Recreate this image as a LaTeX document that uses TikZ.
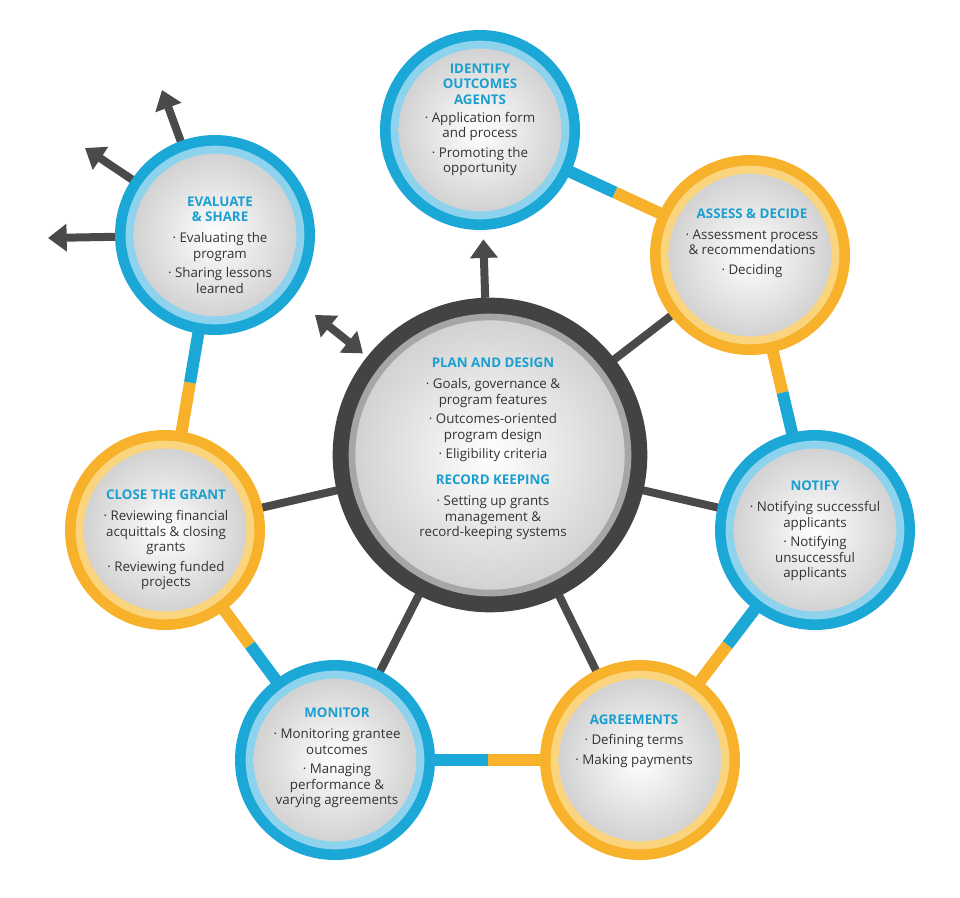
\documentclass[tikz,border=0pt]{standalone}
\usepackage{fontspec}
\setmainfont{Open Sans}
\usetikzlibrary{arrows.meta,calc}
\definecolor{cblue}{HTML}{1BA8D6}
\definecolor{lblue}{HTML}{8DD3EE}
\definecolor{corange}{HTML}{F7B12B}
\definecolor{lorange}{HTML}{FBD57E}
\definecolor{ctitle}{HTML}{1B9FD0}
\definecolor{ctext}{HTML}{333333}
\definecolor{cgrey}{HTML}{4A4A4A}
\tikzset{
  band/.style={line width=9pt},
  spoke/.style={line width=6pt,cgrey},
  garrow/.style={line width=6pt,cgrey,-{Triangle[length=14pt,width=20pt]}},
  garrows/.style={line width=6pt,cgrey,{Triangle[length=14pt,width=20pt]}-{Triangle[length=14pt,width=20pt]}},
  txt/.style={align=center,text=ctext,font=\fontsize{10}{11.6}\selectfont,inner sep=0pt},
}
\newcommand{\ttl}[1]{{\color{ctitle}\bfseries #1}}
\newcommand{\sat}[3]{% center, outer colour, inner colour
  \fill[#2] (#1) circle (75pt);
  \fill[#3] (#1) circle (67pt);
  \shade[inner color=white,outer color=gray!35] (#1) circle (61pt);
}
\begin{document}
\begin{tikzpicture}[x=0.75pt,y=-0.75pt]
\useasboundingbox (0,0) rectangle (960,897);
\coordinate (id) at (480,130);
\coordinate (as) at (750,255);
\coordinate (no) at (815,530);
\coordinate (ag) at (640,760);
\coordinate (mo) at (335,760);
\coordinate (cl) at (165,530);
\coordinate (ev) at (215,235);
\coordinate (pl) at (490,455);
% ring bands
\foreach \a/\ca/\b/\cb in {id/cblue/as/corange, as/corange/no/cblue, no/cblue/ag/corange, ag/corange/mo/cblue, mo/cblue/cl/corange, cl/corange/ev/cblue}{
  \draw[band,\ca] (\a) -- ($(\a)!0.5!(\b)$);
  \draw[band,\cb] ($(\a)!0.5!(\b)$) -- (\b);
}
% spokes
\foreach \s in {as,no,ag,mo,cl} \draw[spoke] (pl) -- (\s);
\coordinate (e1) at (48,238);
\coordinate (e2) at (85,148);
\coordinate (e3) at (162,90);
\draw[garrow] ($(ev)!74pt!(e1)$) -- (e1);
\draw[garrow] ($(ev)!74pt!(e2)$) -- (e2);
\draw[garrow] ($(ev)!74pt!(e3)$) -- (e3);
% satellites
\sat{id}{cblue}{lblue}
\sat{as}{corange}{lorange}
\sat{no}{cblue}{lblue}
\sat{ag}{corange}{lorange}
\sat{mo}{cblue}{lblue}
\sat{cl}{corange}{lorange}
\sat{ev}{cblue}{lblue}
% centre
\fill[cgrey!90!black] (pl) circle (118pt);
\fill[gray!70] (pl) circle (106pt);
\shade[inner color=white,outer color=gray!35] (pl) circle (101pt);
% arrows from centre
\draw[garrow] ($(pl)!118pt!(id)$) -- ($(id)!82pt!(pl)$);
\draw[garrows] ($(pl)!122pt!(ev)$) -- ($(ev)!96pt!(pl)$);
% texts
\node[txt] (tid) at (480,120) {\ttl{IDENTIFY}\\\ttl{OUTCOMES}\\\ttl{AGENTS}\\[2pt]· Application form\\and process\\[3pt]· Promoting the\\opportunity};
\node[txt] (tas) at (752,243) {\ttl{ASSESS \& DECIDE}\\[4pt]· Assessment process\\\& recommendations\\[3pt]· Deciding};
\node[txt] (tno) at (815,531) {\ttl{NOTIFY}\\[4pt]· Notifying successful\\applicants\\[3pt]· Notifying\\unsuccessful\\applicants};
\node[txt] (tag) at (634,741) {\ttl{AGREEMENTS}\\[4pt]· Defining terms\\[3pt]· Making payments};
\node[txt] (tmo) at (337,758) {\ttl{MONITOR}\\[4pt]· Monitoring grantee\\outcomes\\[3pt]· Managing\\performance \&\\varying agreements};
\node[txt] (tcl) at (166,540) {\ttl{CLOSE THE GRANT}\\[4pt]· Reviewing financial\\acquittals \& closing\\grants\\[3pt]· Reviewing funded\\projects};
\node[txt] (tev) at (220,245) {\ttl{EVALUATE}\\\ttl{\& SHARE}\\[4pt]· Evaluating the\\program\\[3pt]· Sharing lessons\\learned};
\node[txt] (tpl) at (493,449) {\ttl{PLAN AND DESIGN}\\[4pt]· Goals, governance \&\\program features\\[3pt]· Outcomes-oriented\\program design\\[3pt]· Eligibility criteria\\[8pt]\ttl{RECORD KEEPING}\\[4pt]· Setting up grants\\management \&\\record-keeping systems};
\end{tikzpicture}
\end{document}
